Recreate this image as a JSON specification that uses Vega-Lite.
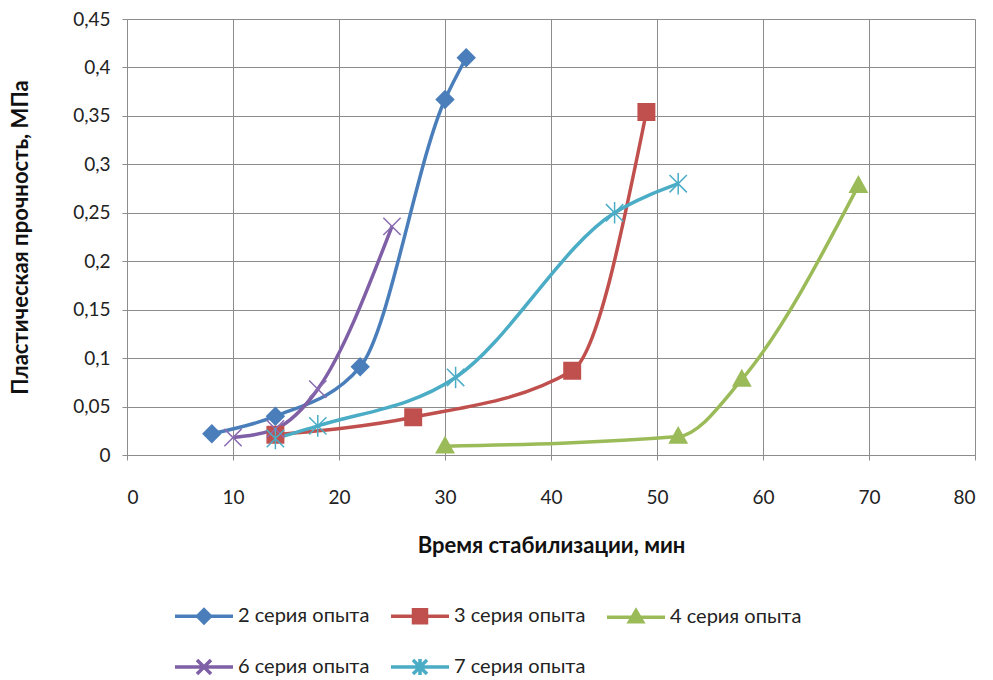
{
  "$schema": "https://vega.github.io/schema/vega-lite/v6.json",
  "width": 848,
  "height": 436,
  "autosize": "none",
  "padding": {"left": 127, "top": 19, "right": 18, "bottom": 225},
  "background": "white",
  "config": {
    "font": "Lato",
    "view": {"stroke": null},
    "axis": {
      "labelFont": "Lato",
      "titleFont": "Lato",
      "labelFontSize": 19,
      "titleFontSize": 22,
      "titleFontWeight": "bold",
      "labelColor": "#222222",
      "titleColor": "#111111",
      "gridColor": "#8c8c8c",
      "gridWidth": 1,
      "domainColor": "#8c8c8c",
      "tickColor": "#8c8c8c"
    }
  },
  "data": {
    "values": [
      {"s": "2 серия опыта", "x": 8, "y": 0.022},
      {"s": "2 серия опыта", "x": 14, "y": 0.04},
      {"s": "2 серия опыта", "x": 22, "y": 0.091},
      {"s": "2 серия опыта", "x": 30, "y": 0.367},
      {"s": "2 серия опыта", "x": 32, "y": 0.41},
      {"s": "3 серия опыта", "x": 14, "y": 0.021},
      {"s": "3 серия опыта", "x": 27, "y": 0.039},
      {"s": "3 серия опыта", "x": 42, "y": 0.087},
      {"s": "3 серия опыта", "x": 49, "y": 0.354},
      {"s": "4 серия опыта", "x": 30, "y": 0.009},
      {"s": "4 серия опыта", "x": 52, "y": 0.019},
      {"s": "4 серия опыта", "x": 58, "y": 0.078},
      {"s": "4 серия опыта", "x": 69, "y": 0.278},
      {"s": "6 серия опыта", "x": 10, "y": 0.018},
      {"s": "6 серия опыта", "x": 14, "y": 0.027},
      {"s": "6 серия опыта", "x": 18, "y": 0.068},
      {"s": "6 серия опыта", "x": 25, "y": 0.236},
      {"s": "7 серия опыта", "x": 14, "y": 0.017},
      {"s": "7 серия опыта", "x": 18, "y": 0.03},
      {"s": "7 серия опыта", "x": 31, "y": 0.08},
      {"s": "7 серия опыта", "x": 46, "y": 0.25},
      {"s": "7 серия опыта", "x": 52, "y": 0.28}
    ]
  },
  "encoding": {
    "x": {
      "field": "x", "type": "quantitative",
      "scale": {"domain": [0, 80], "nice": false, "zero": false},
      "axis": {
        "values": [0, 10, 20, 30, 40, 50, 60, 70, 80],
        "title": "Время стабилизации, мин",
        "tickSize": 5, "labelPadding": 28, "titlePadding": 28,
        "grid": true
      }
    },
    "y": {
      "field": "y", "type": "quantitative",
      "scale": {"domain": [0, 0.45], "nice": false},
      "axis": {
        "values": [0, 0.05, 0.1, 0.15, 0.2, 0.25, 0.3, 0.35, 0.4, 0.45],
        "labelExpr": "replace(format(datum.value, '.2~f'), '.', ',')",
        "title": "Пластическая прочность, МПа",
        "tickSize": 5, "labelPadding": 12, "titlePadding": 40,
        "grid": true
      }
    }
  },
  "layer": [
    {
      "mark": {"type": "line", "interpolate": "monotone", "strokeWidth": 3.5},
      "encoding": {
        "color": {
          "field": "s", "type": "nominal",
          "scale": {"domain": ["2 серия опыта", "3 серия опыта", "4 серия опыта", "6 серия опыта", "7 серия опыта"],
                    "range": ["#4a7ebb", "#c0504d", "#9bbb59", "#7f5fa6", "#4bacc6"]},
          "legend": null
        }
      }
    },
    {
      "mark": {"type": "point", "filled": true, "opacity": 1, "size": 300, "strokeWidth": 1.5},
      "encoding": {
        "fill": {
          "field": "s", "type": "nominal",
          "scale": {"domain": ["2 серия опыта", "3 серия опыта", "4 серия опыта", "6 серия опыта", "7 серия опыта"],
                    "range": ["#4a7ebb", "#c0504d", "#9bbb59", "#8a6cb0", "#4bacc6"]},
          "legend": null
        },
        "stroke": {
          "field": "s", "type": "nominal",
          "scale": {"domain": ["2 серия опыта", "3 серия опыта", "4 серия опыта", "6 серия опыта", "7 серия опыта"],
                    "range": ["#4a7ebb", "#c0504d", "#9bbb59", "#8a6cb0", "#4bacc6"]},
          "legend": null
        },
        "shape": {
          "field": "s", "type": "nominal",
          "scale": {"domain": ["2 серия опыта", "3 серия опыта", "4 серия опыта", "6 серия опыта", "7 серия опыта"],
                    "range": [
                      "M0,-1L1,0L0,1L-1,0Z",
                      "M-0.95,-0.95H0.95V0.95H-0.95Z",
                      "M0,-1.05L1,0.75L-1,0.75Z",
                      "M-1,-1L1,1M-1,1L1,-1",
                      "M-1,-1L1,1M-1,1L1,-1M0,-1.25L0,1.25"
                    ]},
          "legend": null
        }
      }
    },
    {
      "mark": {"type": "point", "filled": true, "opacity": 0, "size": 100},
      "encoding": {
        "fill": {
          "field": "s", "type": "nominal",
          "scale": {"domain": ["2 серия опыта", "3 серия опыта", "4 серия опыта", "6 серия опыта", "7 серия опыта"],
                    "range": ["#4a7ebb", "#c0504d", "#9bbb59", "#8a6cb0", "#4bacc6"]},
          "legend": {
            "orient": "none", "legendX": 67, "legendY": 587,
            "direction": "horizontal", "columns": 3, "title": null,
            "labelFont": "Lato", "labelFontSize": 20, "labelColor": "#222222",
            "symbolSize": 100, "symbolStrokeWidth": 3.5, "labelOffset": 24,
            "rowPadding": 22, "columnPadding": 14, "padding": 0,
            "symbolOpacity": 1,
            "encode": {"symbols": {"update": {"opacity": {"value": 1}}}}
          }
        },
        "stroke": {
          "field": "s", "type": "nominal",
          "scale": {"domain": ["2 серия опыта", "3 серия опыта", "4 серия опыта", "6 серия опыта", "7 серия опыта"],
                    "range": ["#4a7ebb", "#c0504d", "#9bbb59", "#7f5fa6", "#4bacc6"]},
          "legend": {
            "orient": "none", "legendX": 67, "legendY": 587,
            "direction": "horizontal", "columns": 3, "title": null,
            "labelFont": "Lato", "labelFontSize": 20, "labelColor": "#222222",
            "symbolSize": 100, "symbolStrokeWidth": 3.5, "labelOffset": 24,
            "rowPadding": 22, "columnPadding": 14, "padding": 0,
            "symbolOpacity": 1,
            "encode": {"symbols": {"update": {"opacity": {"value": 1}}}}
          }
        },
        "shape": {
          "field": "s", "type": "nominal",
          "scale": {"domain": ["2 серия опыта", "3 серия опыта", "4 серия опыта", "6 серия опыта", "7 серия опыта"],
                    "range": [
                      "M-5.8,0L5.8,0M0,-1.3L1.3,0L0,1.3L-1.3,0Z",
                      "M-5.8,0L5.8,0M-1.3,-1.3H1.3V1.3H-1.3Z",
                      "M-5.8,0L5.8,0M0,-1.3L1.3,0.9L-1.3,0.9Z",
                      "M-5.8,0L5.8,0M-1.4,-1.4L1.4,1.4M-1.4,1.4L1.4,-1.4",
                      "M-5.8,0L5.8,0M-1.4,-1.4L1.4,1.4M-1.4,1.4L1.4,-1.4M0,-1.6L0,1.6"
                    ]},
          "legend": {
            "orient": "none", "legendX": 67, "legendY": 587,
            "direction": "horizontal", "columns": 3, "title": null,
            "labelFont": "Lato", "labelFontSize": 20, "labelColor": "#222222",
            "symbolSize": 100, "symbolStrokeWidth": 3.5, "labelOffset": 24,
            "rowPadding": 22, "columnPadding": 14, "padding": 0,
            "symbolOpacity": 1,
            "encode": {"symbols": {"update": {"opacity": {"value": 1}}}}
          }
        }
      }
    }
  ],
  "resolve": {"scale": {"fill": "independent", "stroke": "independent", "shape": "independent"}}
}
